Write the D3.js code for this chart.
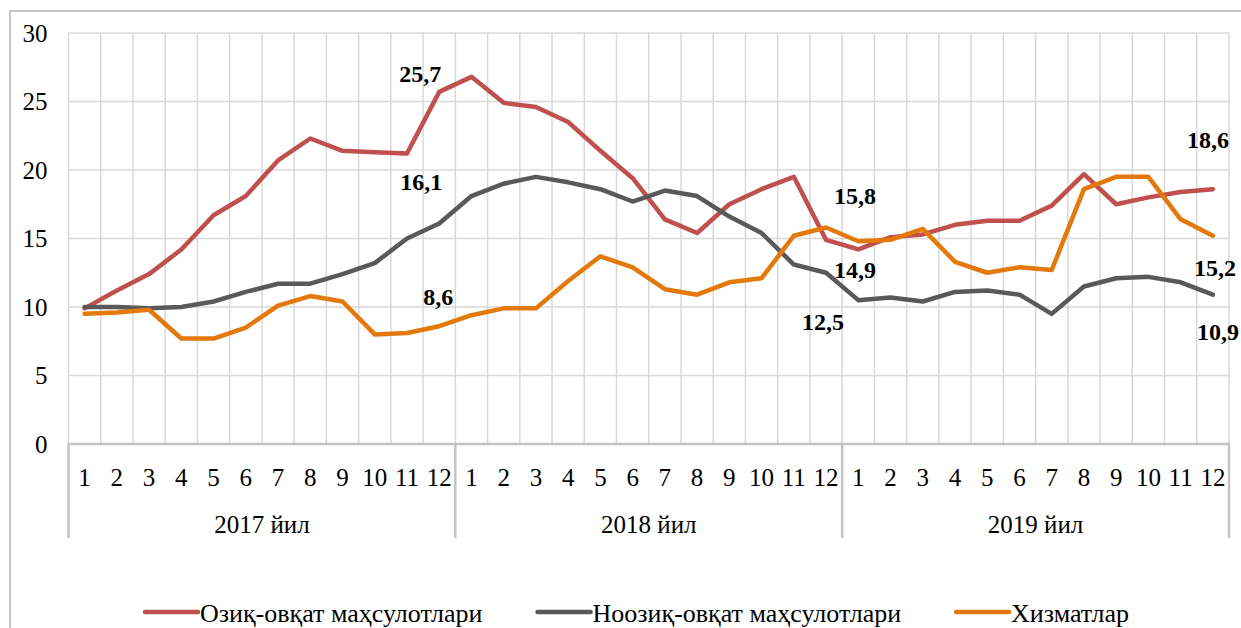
<!DOCTYPE html>
<html>
<head>
<meta charset="utf-8">
<script src="https://cdn.jsdelivr.net/npm/d3@7"></script>
<style>
  body { margin: 0; background: #fff; }
  svg text { font-family: "Liberation Serif", "Times New Roman", serif; fill: #000; }
</style>
</head>
<body>
<div class="chart"></div>
<script>
// data
const years = ["2017 йил", "2018 йил", "2019 йил"];
const months = ["1","2","3","4","5","6","7","8","9","10","11","12"];
const yTicks = [0, 5, 10, 15, 20, 25, 30];

const seriesNames = ["Озиқ-овқат маҳсулотлари", "Ноозиқ-овқат маҳсулотлари", "Хизматлар"];
const food = [9.9, 11.2, 12.4, 14.2, 16.7, 18.1, 20.7, 22.3, 21.4, 21.3, 21.2, 25.7,
              26.8, 24.9, 24.6, 23.5, 21.4, 19.4, 16.4, 15.4, 17.5, 18.6, 19.5, 14.9,
              14.2, 15.1, 15.3, 16.0, 16.3, 16.3, 17.4, 19.7, 17.5, 18.0, 18.4, 18.6];
const nonFood = [10.0, 10.0, 9.9, 10.0, 10.4, 11.1, 11.7, 11.7, 12.4, 13.2, 15.0, 16.1,
                 18.1, 19.0, 19.5, 19.1, 18.6, 17.7, 18.5, 18.1, 16.6, 15.4, 13.1, 12.5,
                 10.5, 10.7, 10.4, 11.1, 11.2, 10.9, 9.5, 11.5, 12.1, 12.2, 11.8, 10.9];
const services = [9.5, 9.6, 9.8, 7.7, 7.7, 8.5, 10.1, 10.8, 10.4, 8.0, 8.1, 8.6,
                  9.4, 9.9, 9.9, 11.9, 13.7, 12.9, 11.3, 10.9, 11.8, 12.1, 15.2, 15.8,
                  14.8, 14.9, 15.7, 13.3, 12.5, 12.9, 12.7, 18.6, 19.5, 19.5, 16.4, 15.2];

const colors = ["#C0504D", "#595959", "#E4790B"];
const allSeries = [food, nonFood, services];

// which points get a value label and where it sits relative to the point
const labelIdx = [11, 23, 35];
const labelOffsets = [
  [[-19, -10], [29, 38], [-5, -41]],
  [[-18, -33], [-3, 57], [5, 45]],
  [[-1, -21], [29, -24], [2, 40]]
];

const w = 1241;
const h = 628;
const pLeft = 68.5, pRight = 1229, pTop = 33, pBottom = 444;

const svg = d3.select('.chart')
              .append('svg')
              .attr('width', w)
              .attr('height', h);

// outer chart border
svg.append("rect")
   .attr("x", 10).attr("y", 11)
   .attr("width", 1240).attr("height", 640)
   .attr("fill", "none")
   .attr("stroke", "#C6C6C6")
   .attr("stroke-width", 2);

const idx = d3.range(years.length * months.length);
const x = d3.scaleBand().domain(idx).range([pLeft, pRight]).padding(0);
const y = d3.scaleLinear().domain([0, 30]).range([pBottom, pTop]);

// horizontal gridlines
svg.append("g")
   .selectAll("line")
   .data(yTicks.filter(d => d > 0))
   .enter()
   .append("line")
   .attr("x1", pLeft).attr("x2", pRight)
   .attr("y1", d => y(d)).attr("y2", d => y(d))
   .attr("stroke", "#D9D9D9")
   .attr("stroke-width", 1.5);

// vertical gridlines between months
svg.append("g")
   .selectAll("line")
   .data(idx.concat([idx.length]))
   .enter()
   .append("line")
   .attr("x1", d => pLeft + d * x.bandwidth())
   .attr("x2", d => pLeft + d * x.bandwidth())
   .attr("y1", pTop).attr("y2", pBottom)
   .attr("stroke", "#D9D9D9")
   .attr("stroke-width", 1.5);

// y axis labels
const yAxis = svg.append("g")
   .attr("transform", `translate(${pLeft}, 0)`)
   .call(d3.axisLeft(y).tickValues(yTicks).tickSize(0).tickPadding(21));
yAxis.select(".domain").remove();
yAxis.selectAll("text")
     .attr("font-size", 25)
     .attr("fill", "#000");

// category axis: month row
const xAxis = svg.append("g")
   .attr("transform", `translate(0, ${pBottom})`)
   .call(d3.axisBottom(x).tickSize(0).tickPadding(24)
           .tickFormat(i => months[i % months.length]));
xAxis.select(".domain").remove();
xAxis.selectAll("text")
     .attr("font-size", 25)
     .attr("fill", "#000");

// year separators
const yearW = x.bandwidth() * months.length;
svg.append("g")
   .selectAll("line")
   .data(d3.range(years.length + 1))
   .enter()
   .append("line")
   .attr("x1", d => pLeft + d * yearW)
   .attr("x2", d => pLeft + d * yearW)
   .attr("y1", pBottom).attr("y2", 538)
   .attr("stroke", "#C4C4C4")
   .attr("stroke-width", 2.5);

svg.append("line")
   .attr("x1", pLeft - 1).attr("x2", pRight + 1)
   .attr("y1", pBottom).attr("y2", pBottom)
   .attr("stroke", "#C4C4C4")
   .attr("stroke-width", 2.5);

svg.selectAll("text.year")
   .data(years)
   .enter()
   .append("text")
   .attr("class", "year")
   .attr("x", (d, i) => pLeft + (i + 0.5) * yearW)
   .attr("y", 533)
   .attr("text-anchor", "middle")
   .attr("font-size", 25)
   .text(d => d);

// lines
const line = d3.line()
               .x((d, i) => x(i) + x.bandwidth() / 2)
               .y(d => y(d))
               .curve(d3.curveLinear);

svg.selectAll("path.series")
   .data(allSeries)
   .enter()
   .append("path")
   .attr("class", "series")
   .attr("d", line)
   .attr("fill", "none")
   .attr("stroke", (d, i) => colors[i])
   .attr("stroke-width", 4.5)
   .attr("stroke-linejoin", "round")
   .attr("stroke-linecap", "round");

// value labels
allSeries.forEach(function(s, si) {
  labelIdx.forEach(function(pi, k) {
    const off = labelOffsets[si][k];
    svg.append("text")
       .attr("x", x(pi) + x.bandwidth() / 2 + off[0])
       .attr("y", y(s[pi]) + off[1])
       .attr("text-anchor", "middle")
       .attr("font-size", 24)
       .attr("font-weight", "bold")
       .text(d3.format(".1f")(s[pi]).replace(".", ","));
  });
});

// legend
let lx = 145;
const ly = 612;
seriesNames.forEach(function(name, i) {
  svg.append("line")
     .attr("x1", lx).attr("x2", lx + 53)
     .attr("y1", ly).attr("y2", ly)
     .attr("stroke", colors[i])
     .attr("stroke-width", 4.5)
     .attr("stroke-linecap", "round");
  const t = svg.append("text")
     .attr("x", lx + 55)
     .attr("y", ly + 10)
     .attr("font-size", 26)
     .text(name);
  lx = lx + 55 + t.node().getComputedTextLength() + 55;
});
</script>
</body>
</html>
